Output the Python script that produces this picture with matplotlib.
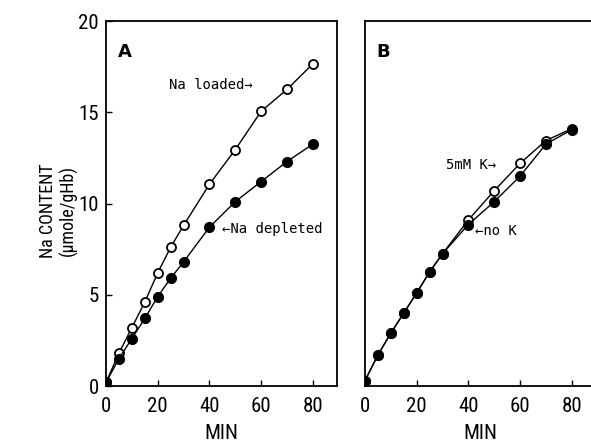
import matplotlib
matplotlib.use("Agg")
import matplotlib.pyplot as plt
from matplotlib import font_manager as fm

# Time points (min)
t = [0, 5, 10, 15, 20, 25, 30, 40, 50, 60, 70, 80]

# Panel A: Na content (umole/gHb)
na_loaded = [0.2, 1.8, 3.2, 4.6, 6.2, 7.6, 8.8, 11.05, 12.95, 15.05, 16.25, 17.65]
na_depleted = [0.2, 1.5, 2.6, 3.7, 4.9, 5.9, 6.8, 8.7, 10.1, 11.2, 12.3, 13.25]

# Panel B
k_5mM = [0.3, 1.7, 2.9, 4.0, 5.1, 6.25, 7.25, 9.1, 10.7, 12.2, 13.45, 14.1]
no_k = [0.3, 1.7, 2.9, 4.0, 5.1, 6.25, 7.25, 8.85, 10.1, 11.5, 13.25, 14.05]

xticks = [0, 20, 40, 60, 80]
yticks = [0, 5, 10, 15, 20]

names = {f.name for f in fm.fontManager.ttflist}
narrow = None
for cand in ["Liberation Sans Narrow", "DejaVu Sans Condensed", "Roboto Condensed"]:
    if cand in names:
        narrow = cand
        break
if narrow is None:
    for f in fm.fontManager.ttflist:
        if f.name == "DejaVu Sans" and f.stretch == "condensed":
            narrow = "DejaVu Sans"
            break
tick_font = dict(family=narrow or "Liberation Sans", stretch="condensed")
mono = dict(family="DejaVu Sans Mono")

fig = plt.figure(figsize=(5.91, 4.44), dpi=100)
axA = fig.add_axes([0.1794, 0.1306, 0.3909, 0.822])
axB = fig.add_axes([0.6176, 0.1306, 0.3909, 0.822])

for ax in (axA, axB):
    ax.set_xlim(0, 89.4)
    ax.set_ylim(0, 20)
    ax.set_xticks(xticks)
    ax.tick_params(axis="both", direction="in", length=4, width=1, color="black")
    ax.tick_params(axis="x", pad=8)
    ax.tick_params(axis="y", pad=5)
    for s in ax.spines.values():
        s.set_linewidth(1.3)
    for lab in ax.get_xticklabels():
        lab.set_fontproperties(fm.FontProperties(size=15, **tick_font))
    ax.set_xlabel("MIN", fontsize=15, labelpad=6, **tick_font)

axB.spines["right"].set_visible(False)

axA.set_yticks(yticks)
for lab in axA.get_yticklabels():
    lab.set_fontproperties(fm.FontProperties(size=15, **tick_font))
axA.set_ylabel("Na CONTENT\n(\u00b5mole/gHb)", fontsize=13, linespacing=1.1, **tick_font)
axA.yaxis.label.set_verticalalignment("center")
axA.yaxis.set_label_coords(-0.205, 0.48)
axB.set_yticks([])

line_kw = dict(color="black", linewidth=1.0)
axA.plot(t, na_loaded, marker="o", markersize=6.5, markerfacecolor="white",
         markeredgecolor="black", markeredgewidth=1.3, **line_kw)
axA.plot(t, na_depleted, marker="o", markersize=7, markerfacecolor="black",
         markeredgecolor="black", **line_kw)

axB.plot(t, k_5mM, marker="o", markersize=6.5, markerfacecolor="white",
         markeredgecolor="black", markeredgewidth=1.3, **line_kw)
axB.plot(t, no_k, marker="o", markersize=7, markerfacecolor="black",
         markeredgecolor="black", **line_kw)

axA.text(4.5, 18.3, "A", fontsize=13, fontweight="bold", family="DejaVu Sans", va="center")
axB.text(4.5, 18.3, "B", fontsize=13, fontweight="bold", family="DejaVu Sans", va="center")

axA.text(24.5, 16.5, "Na loaded\u2192", fontsize=10, va="center", **mono)
axA.text(45, 8.6, "\u2190Na depleted", fontsize=10, va="center", **mono)
axB.text(31.5, 12.1, "5mM K\u2192", fontsize=10, va="center", **mono)
axB.text(42.5, 8.5, "\u2190no K", fontsize=10, va="center", **mono)

fig.savefig("out.png", dpi=100)
